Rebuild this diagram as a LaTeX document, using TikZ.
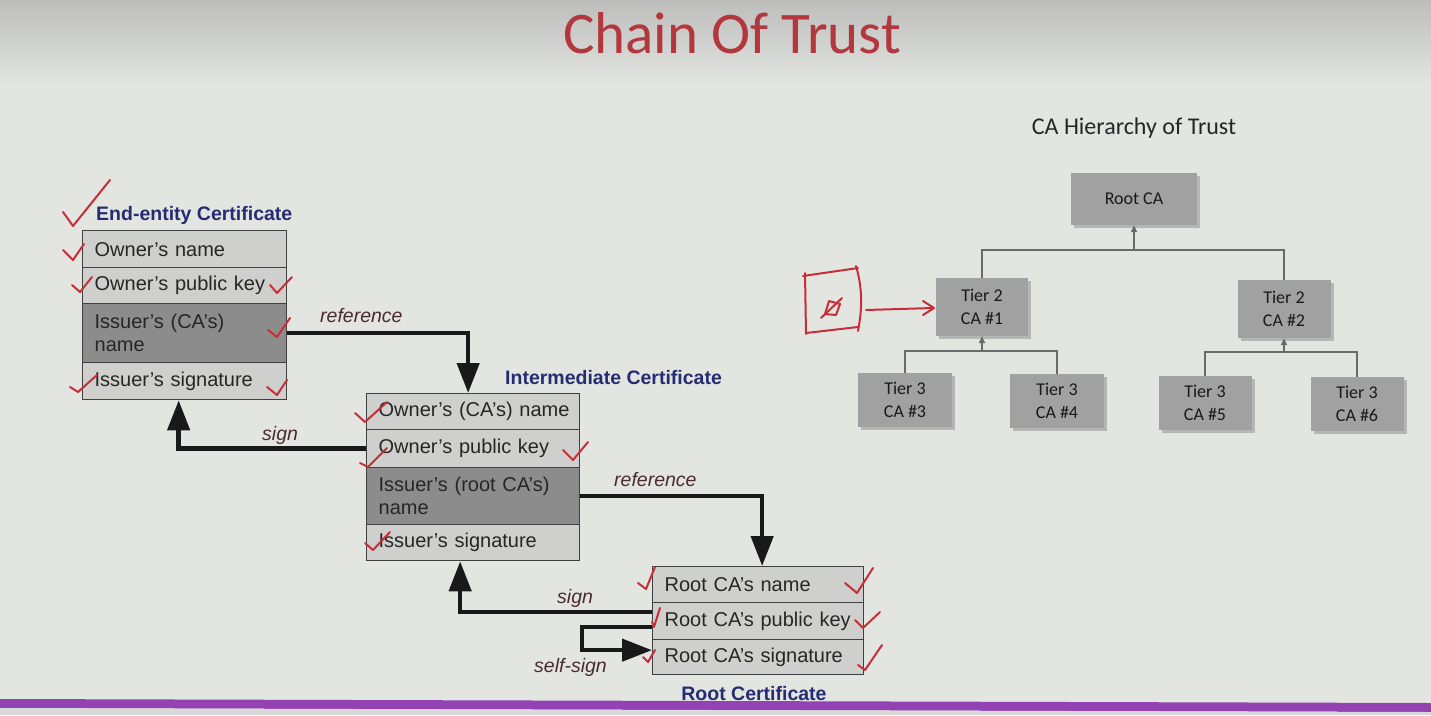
\documentclass[tikz,border=0pt]{standalone}
\usepackage{fontspec}
\setmainfont{Liberation Sans}
\newfontfamily\calibri{Carlito}
\usetikzlibrary{arrows.meta,shadows,calc}

\definecolor{bgcol}{HTML}{E3E5E1}
\definecolor{topgray}{HTML}{BDBEBC}
\definecolor{rowlight}{HTML}{CFD0CD}
\definecolor{rowdark}{HTML}{8B8C8B}
\definecolor{navy}{HTML}{262C72}
\definecolor{pen}{HTML}{C62F38}
\definecolor{titlered}{HTML}{B2383E}
\definecolor{labelcol}{HTML}{4A2B30}
\definecolor{tierfill}{HTML}{A0A1A0}
\definecolor{tierline}{HTML}{6A6A6A}
\definecolor{barpurple}{HTML}{9342B3}

\tikzset{
  certrow/.style={draw=black!75, line width=1.3pt, fill=rowlight, anchor=north west,
    inner xsep=0pt, inner ysep=0pt, align=left, text=black!85,
    execute at begin node={\leftskip=12pt\relax},
    font=\fontsize{20}{23}\selectfont},
  eerow/.style={certrow, minimum width=204pt, text width=204pt},
  introw/.style={certrow, minimum width=213pt, text width=213pt},
  rootrow/.style={certrow, minimum width=211pt, text width=211pt},
  darkrow/.style={fill=rowdark},
  certtitle/.style={text=navy, font=\bfseries\fontsize{19.5}{23}\selectfont, inner sep=0pt},
  linklabel/.style={text=labelcol, font=\itshape\fontsize{19.5}{23}\selectfont, inner sep=0pt},
  conn/.style={line width=4.5pt, draw=black!90, -{Triangle[length=30pt,width=22pt]}},
  tier/.style={fill=tierfill, align=center, text=black!90,
    font=\calibri\fontsize{18}{23}\selectfont,
    drop shadow={shadow xshift=3pt, shadow yshift=-3pt, opacity=0.45}},
  hline/.style={draw=tierline, line width=1.4pt},
  pen/.style={draw=pen, line width=2pt, line cap=round, line join=round},
}

\begin{document}
\begin{tikzpicture}[x=1pt,y=-1pt]
\useasboundingbox (0,0) rectangle (1431,715);

% screen background
\fill[bgcol] (0,0) rectangle (1431,715);
\shade[top color=topgray, bottom color=bgcol] (0,0) rectangle (1431,85);
\fill[barpurple] (0,699) -- (1431,703) -- (1431,712) -- (0,708) -- cycle;
\fill[black!15] (0,708) -- (1431,712) -- (1431,715) -- (0,715) -- cycle;

% slide title
\node[font=\calibri\fontsize{59}{64}\selectfont, text=titlered, anchor=base, inner sep=0pt]
  (title) at (732,53) {Chain Of Trust};

% end-entity certificate
\node[certtitle, anchor=base west] (eetitle) at (96,220) {End-entity Certificate};
\node[eerow, minimum height=37pt] (ee1) at (82,230) {Owner's name};
\node[eerow, minimum height=36pt] (ee2) at (82,267) {Owner's public key};
\node[eerow, darkrow, minimum height=59pt] (ee3) at (82,303) {Issuer's (CA's)\\name};
\node[eerow, minimum height=37pt] (ee4) at (82,362) {Issuer's signature};

% intermediate certificate
\node[certtitle, anchor=base west] (inttitle) at (505,384) {Intermediate Certificate};
\node[introw, minimum height=36pt] (int1) at (366,393) {Owner's (CA's) name};
\node[introw, minimum height=38pt] (int2) at (366,429) {Owner's public key};
\node[introw, darkrow, minimum height=57pt] (int3) at (366,467) {Issuer's (root CA's)\\name};
\node[introw, minimum height=36pt] (int4) at (366,524) {Issuer's signature};

% root certificate
\node[rootrow, minimum height=36pt] (root1) at (652,566) {Root CA's name};
\node[rootrow, minimum height=37pt] (root2) at (652,602) {Root CA's public key};
\node[rootrow, minimum height=35pt] (root3) at (652,639) {Root CA's signature};
\node[certtitle, anchor=base] (roottitle) at (754,700) {Root Certificate};

% reference and signing links
\draw[conn] (ee3.east) -| ([xshift=-5pt]int1.north);
\draw[conn] (int2.west) -| ([xshift=-6pt]ee4.south);
\draw[conn] (int3.east) -| ([xshift=4pt]root1.north);
\draw[conn] ([yshift=9pt]root2.west) -| ([xshift=-13pt]int4.south);
\draw[conn] ([yshift=-6pt]root2.west) -- ++(-70,0) |- ([yshift=7pt]root3.west);

\node[linklabel, anchor=base west] (lref1) at (320,322) {reference};
\node[linklabel, anchor=base west] (lsign1) at (262,440) {sign};
\node[linklabel, anchor=base west] (lref2) at (614,486) {reference};
\node[linklabel, anchor=base west] (lsign2) at (557,603) {sign};
\node[linklabel, anchor=base west] (lself) at (534,672) {self-sign};

% CA hierarchy
\node[font=\calibri\fontsize{24}{28}\selectfont, text=black!85] (htitle) at (1134,128) {CA Hierarchy of Trust};
\node[tier, minimum width=126pt, minimum height=52pt] (rootca) at (1134,199) {Root CA};
\node[tier, minimum width=92pt, minimum height=58pt] (t21) at (982,307) {Tier 2\\CA \#1};
\node[tier, minimum width=93pt, minimum height=58pt] (t22) at (1284,309) {Tier 2\\CA \#2};
\node[tier, minimum width=94pt, minimum height=54pt] (t33) at (905,400) {Tier 3\\CA \#3};
\node[tier, minimum width=94pt, minimum height=54pt] (t34) at (1057,401) {Tier 3\\CA \#4};
\node[tier, minimum width=93pt, minimum height=54pt] (t35) at (1205,403) {Tier 3\\CA \#5};
\node[tier, minimum width=93pt, minimum height=54pt] (t36) at (1357,404) {Tier 3\\CA \#6};

\coordinate (j0) at (1134,250);
\coordinate (j1) at (982,351);
\coordinate (j2) at (1284,352);
\draw[hline, -{Triangle[length=7pt,width=6pt]}] (j0) -- (rootca.south);
\draw[hline] (t21.north) |- (j0) -| (t22.north);
\draw[hline, -{Triangle[length=7pt,width=6pt]}] (j1) -- (t21.south);
\draw[hline] (t33.north) |- (j1) -| (t34.north);
\draw[hline, -{Triangle[length=7pt,width=6pt]}] (j2) -- (t22.south);
\draw[hline] (t35.north) |- (j2) -| (t36.north);

% pen annotations: ticks
\draw[pen] (63,212) -- (73,226) -- (110,180);
\draw[pen] (63,250) -- (73,260) -- (84,244);
\draw[pen] (72,285) -- (80,292) -- (92,277);
\draw[pen] (270,285) -- (277,293) -- (292,277);
\draw[pen] (268,330) -- (277,337) -- (290,318);
\draw[pen] (70,387) -- (78,392) -- (97,375);
\draw[pen] (267,387) -- (277,395) -- (287,380);
\draw[pen] (355,413) -- (365,422) -- (387,402);
\draw[pen] (360,463) -- (368,467) -- (387,448);
\draw[pen] (563,450) -- (573,460) -- (588,442);
\draw[pen] (365,543) -- (373,550) -- (390,532);
\draw[pen] (638,583) -- (646,589) -- (655,567);
\draw[pen] (845,583) -- (857,593) -- (873,568);
\draw[pen] (652,622) -- (654,627) -- (660,608);
\draw[pen] (855,620) -- (863,628) -- (880,612);
\draw[pen] (643,657) -- (648,662) -- (655,650);
\draw[pen] (858,665) -- (865,670) -- (882,645);

% pen annotations: marked box pointing at Tier 2 CA #1
\draw[pen] (805,273) -- (806,334);
\draw[pen] (803,276) -- (858,268);
\draw[pen] (856,266) .. controls (863,290) and (862,310) .. (858,331);
\draw[pen] (806,333) -- (858,327);
\draw[pen] (825,314) -- (829,301) -- (840,304) -- (836,315) -- cycle;
\draw[pen] (821,318) -- (842,298);
\draw[pen] (866,310) -- (933,308);
\draw[pen] (923,301) -- (934,308) -- (923,315);
\end{tikzpicture}
\end{document}
